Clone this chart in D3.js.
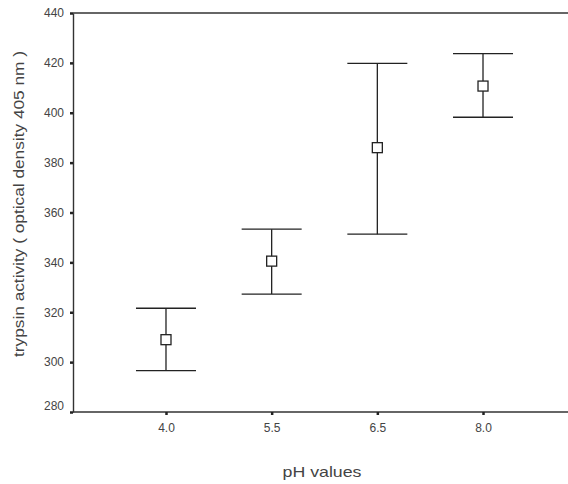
<!DOCTYPE html>
<html>
<head>
<meta charset="utf-8">
<script src="https://cdn.jsdelivr.net/npm/d3@7"></script>
<style>
  body { margin: 0; background: #fff; }
  svg { display: block; font-family: "Liberation Sans", Arial, sans-serif; }
</style>
</head>
<body>
<div id="chart"></div>
<script>
// Data
const phValues = ["4.0", "5.5", "6.5", "8.0"];
const meanValues = [309, 340.5, 386, 410.7];
const upperValues = [321.6, 353.3, 419.8, 423.7];
const lowerValues = [296.6, 327.3, 351.3, 398.2];
const yTicks = [280, 300, 320, 340, 360, 380, 400, 420, 440];

const width = 568, height = 484;
const margin = {top: 13, left: 73, bottom: 72};
const plotBottom = height - margin.bottom; // 412

const svg = d3.select("#chart").append("svg")
    .attr("width", width)
    .attr("height", height);

// Scales (plot frame runs off the right edge of the picture)
const x = d3.scalePoint()
    .domain(phValues)
    .range([margin.left, 576])
    .padding(0.88);

const y = d3.scaleLinear()
    .domain([280, 440])
    .range([plotBottom, margin.top]);

// Top frame line
svg.append("line")
    .attr("x1", margin.left).attr("x2", width + 5)
    .attr("y1", y(440)).attr("y2", y(440))
    .attr("stroke", "#333").attr("stroke-width", 1.4);

// y axis
const yAxis = svg.append("g")
    .attr("transform", `translate(${margin.left},0)`)
    .call(d3.axisLeft(y).tickValues(yTicks).tickSize(3).tickPadding(6).tickSizeOuter(0));
yAxis.select(".domain").attr("stroke", "#333").attr("stroke-width", 1.4);
yAxis.selectAll(".tick line").attr("stroke", "#222").attr("stroke-width", 2.5);
yAxis.selectAll(".tick text")
    .attr("font-size", 12)
    .attr("fill", "#444")
    .attr("dy", d => d === 280 ? "-0.25em" : "0.32em");

// x axis
const xAxis = svg.append("g")
    .attr("transform", `translate(0,${plotBottom})`)
    .call(d3.axisBottom(x).tickSize(3).tickPadding(8).tickSizeOuter(0));
xAxis.select(".domain")
    .attr("d", `M${margin.left},0H${width + 5}`)
    .attr("stroke", "#333").attr("stroke-width", 1.4);
xAxis.selectAll(".tick line").attr("stroke", "#222").attr("stroke-width", 2.5);
xAxis.selectAll(".tick text")
    .attr("font-size", 12)
    .attr("fill", "#444");

// Axis labels
svg.append("text")
    .attr("transform", "translate(24,204) rotate(-90)")
    .attr("text-anchor", "middle")
    .attr("font-size", 15)
    .attr("fill", "#444")
    .attr("textLength", 306)
    .attr("lengthAdjust", "spacingAndGlyphs")
    .text("trypsin activity ( optical density 405 nm )");

svg.append("text")
    .attr("x", 322)
    .attr("y", 477)
    .attr("text-anchor", "middle")
    .attr("font-size", 15)
    .attr("fill", "#444")
    .attr("textLength", 79)
    .attr("lengthAdjust", "spacingAndGlyphs")
    .text("pH values");

// Error bars
const capHalf = 30;
const sq = 10;
phValues.forEach((ph, i) => {
    const cx = x(ph);
    const g = svg.append("g").attr("stroke", "#222").attr("stroke-width", 1.3);

    g.append("line")
        .attr("x1", cx).attr("x2", cx)
        .attr("y1", y(upperValues[i])).attr("y2", y(lowerValues[i]));

    g.append("line")
        .attr("x1", cx - capHalf).attr("x2", cx + capHalf)
        .attr("y1", y(upperValues[i])).attr("y2", y(upperValues[i]));

    g.append("line")
        .attr("x1", cx - capHalf).attr("x2", cx + capHalf)
        .attr("y1", y(lowerValues[i])).attr("y2", y(lowerValues[i]));

    // mean marker
    g.append("rect")
        .attr("x", cx - sq / 2)
        .attr("y", y(meanValues[i]) - sq / 2)
        .attr("width", sq)
        .attr("height", sq)
        .attr("fill", "#fff");
});
</script>
</body>
</html>
